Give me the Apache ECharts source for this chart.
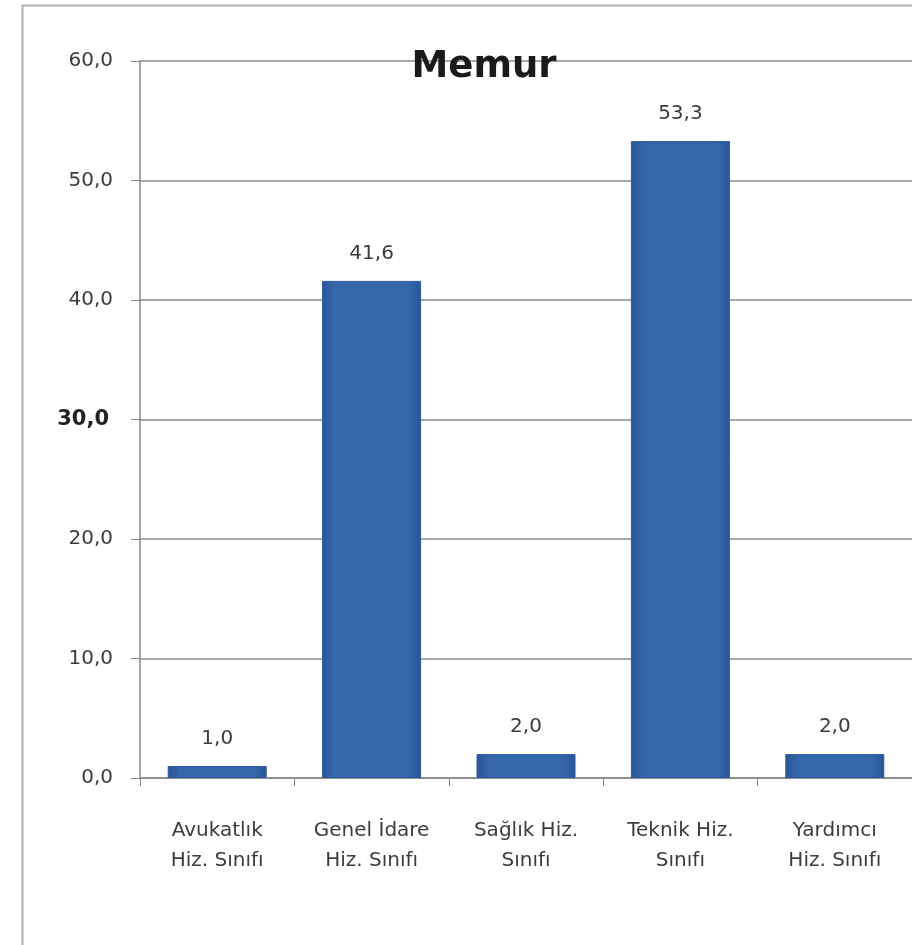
<!DOCTYPE html>
<html>
<head>
<meta charset="utf-8">
<script src="https://cdn.jsdelivr.net/npm/echarts@6/dist/echarts.min.js"></script>
<style>
html,body{margin:0;padding:0;background:#fff;}
#c{width:912px;height:945px;}
</style>
</head>
<body>
<div id="c"></div>
<script>
const categories = ["Avukatlık\nHiz. Sınıfı", "Genel İdare\nHiz. Sınıfı", "Sağlık Hiz.\nSınıfı", "Teknik Hiz.\nSınıfı", "Yardımcı\nHiz. Sınıfı"];
const values = [1.0, 41.6, 2.0, 53.3, 2.0];
const titleText = "Memur";
const fmt = v => v.toFixed(1).replace('.', ',');

const chart = echarts.init(document.getElementById('c'), null, {renderer: 'canvas'});
chart.setOption({
  backgroundColor: '#fff',
  animation: false,
  graphic: [{
    type: 'rect', left: 20, top: 3,
    shape: {width: 1000, height: 1000},
    style: {fill: 'none', stroke: '#b0b0b0', lineWidth: 2},
    z: -1
  }],
  title: {
    text: titleText, left: 479, top: 44, textAlign: 'center',
    textStyle: {fontFamily: 'DejaVu Sans', fontWeight: 'bold', fontSize: 37, color: '#1a1a1a'}
  },
  grid: {left: 140, top: 61, width: 775, bottom: 167, containLabel: false},
  xAxis: {
    type: 'category', data: categories,
    axisLine: {lineStyle: {color: '#868686', width: 1.5}},
    axisTick: {show: true, length: 8, lineStyle: {color: '#868686'}},
    axisLabel: {margin: 38, fontFamily: 'DejaVu Sans', fontSize: 20, color: '#3c3c3c', lineHeight: 30, interval: 0}
  },
  yAxis: {
    type: 'value', min: 0, max: 60, interval: 10,
    axisLine: {show: true, lineStyle: {color: '#868686', width: 1.5}},
    axisTick: {show: true, length: 9, lineStyle: {color: '#868686'}},
    splitLine: {lineStyle: {color: '#8c8c8c', width: 1.5}},
    axisLabel: {
      margin: 27, fontFamily: 'DejaVu Sans', fontSize: 20, color: '#3c3c3c',
      formatter: v => v === 30 ? '{b|' + fmt(v) + '}' : fmt(v),
      rich: {b: {fontFamily: 'DejaVu Sans', fontWeight: 'bold', fontSize: 21, color: '#222', backgroundColor: '#fff', padding: [6, 4]}}
    }
  },
  series: [{
    type: 'bar', data: values, barWidth: 99,
    itemStyle: {
      color: new echarts.graphic.LinearGradient(0, 0, 1, 0, [
        {offset: 0, color: '#2a5594'},
        {offset: 0.12, color: '#3466aa'},
        {offset: 0.88, color: '#3466aa'},
        {offset: 1, color: '#2a5594'}
      ]),
      borderColor: '#2b5aa0', borderWidth: 1
    },
    label: {
      show: true, position: 'top', distance: 17,
      fontFamily: 'DejaVu Sans', fontSize: 20, color: '#3c3c3c',
      formatter: p => fmt(p.value)
    }
  }]
});
</script>
</body>
</html>
